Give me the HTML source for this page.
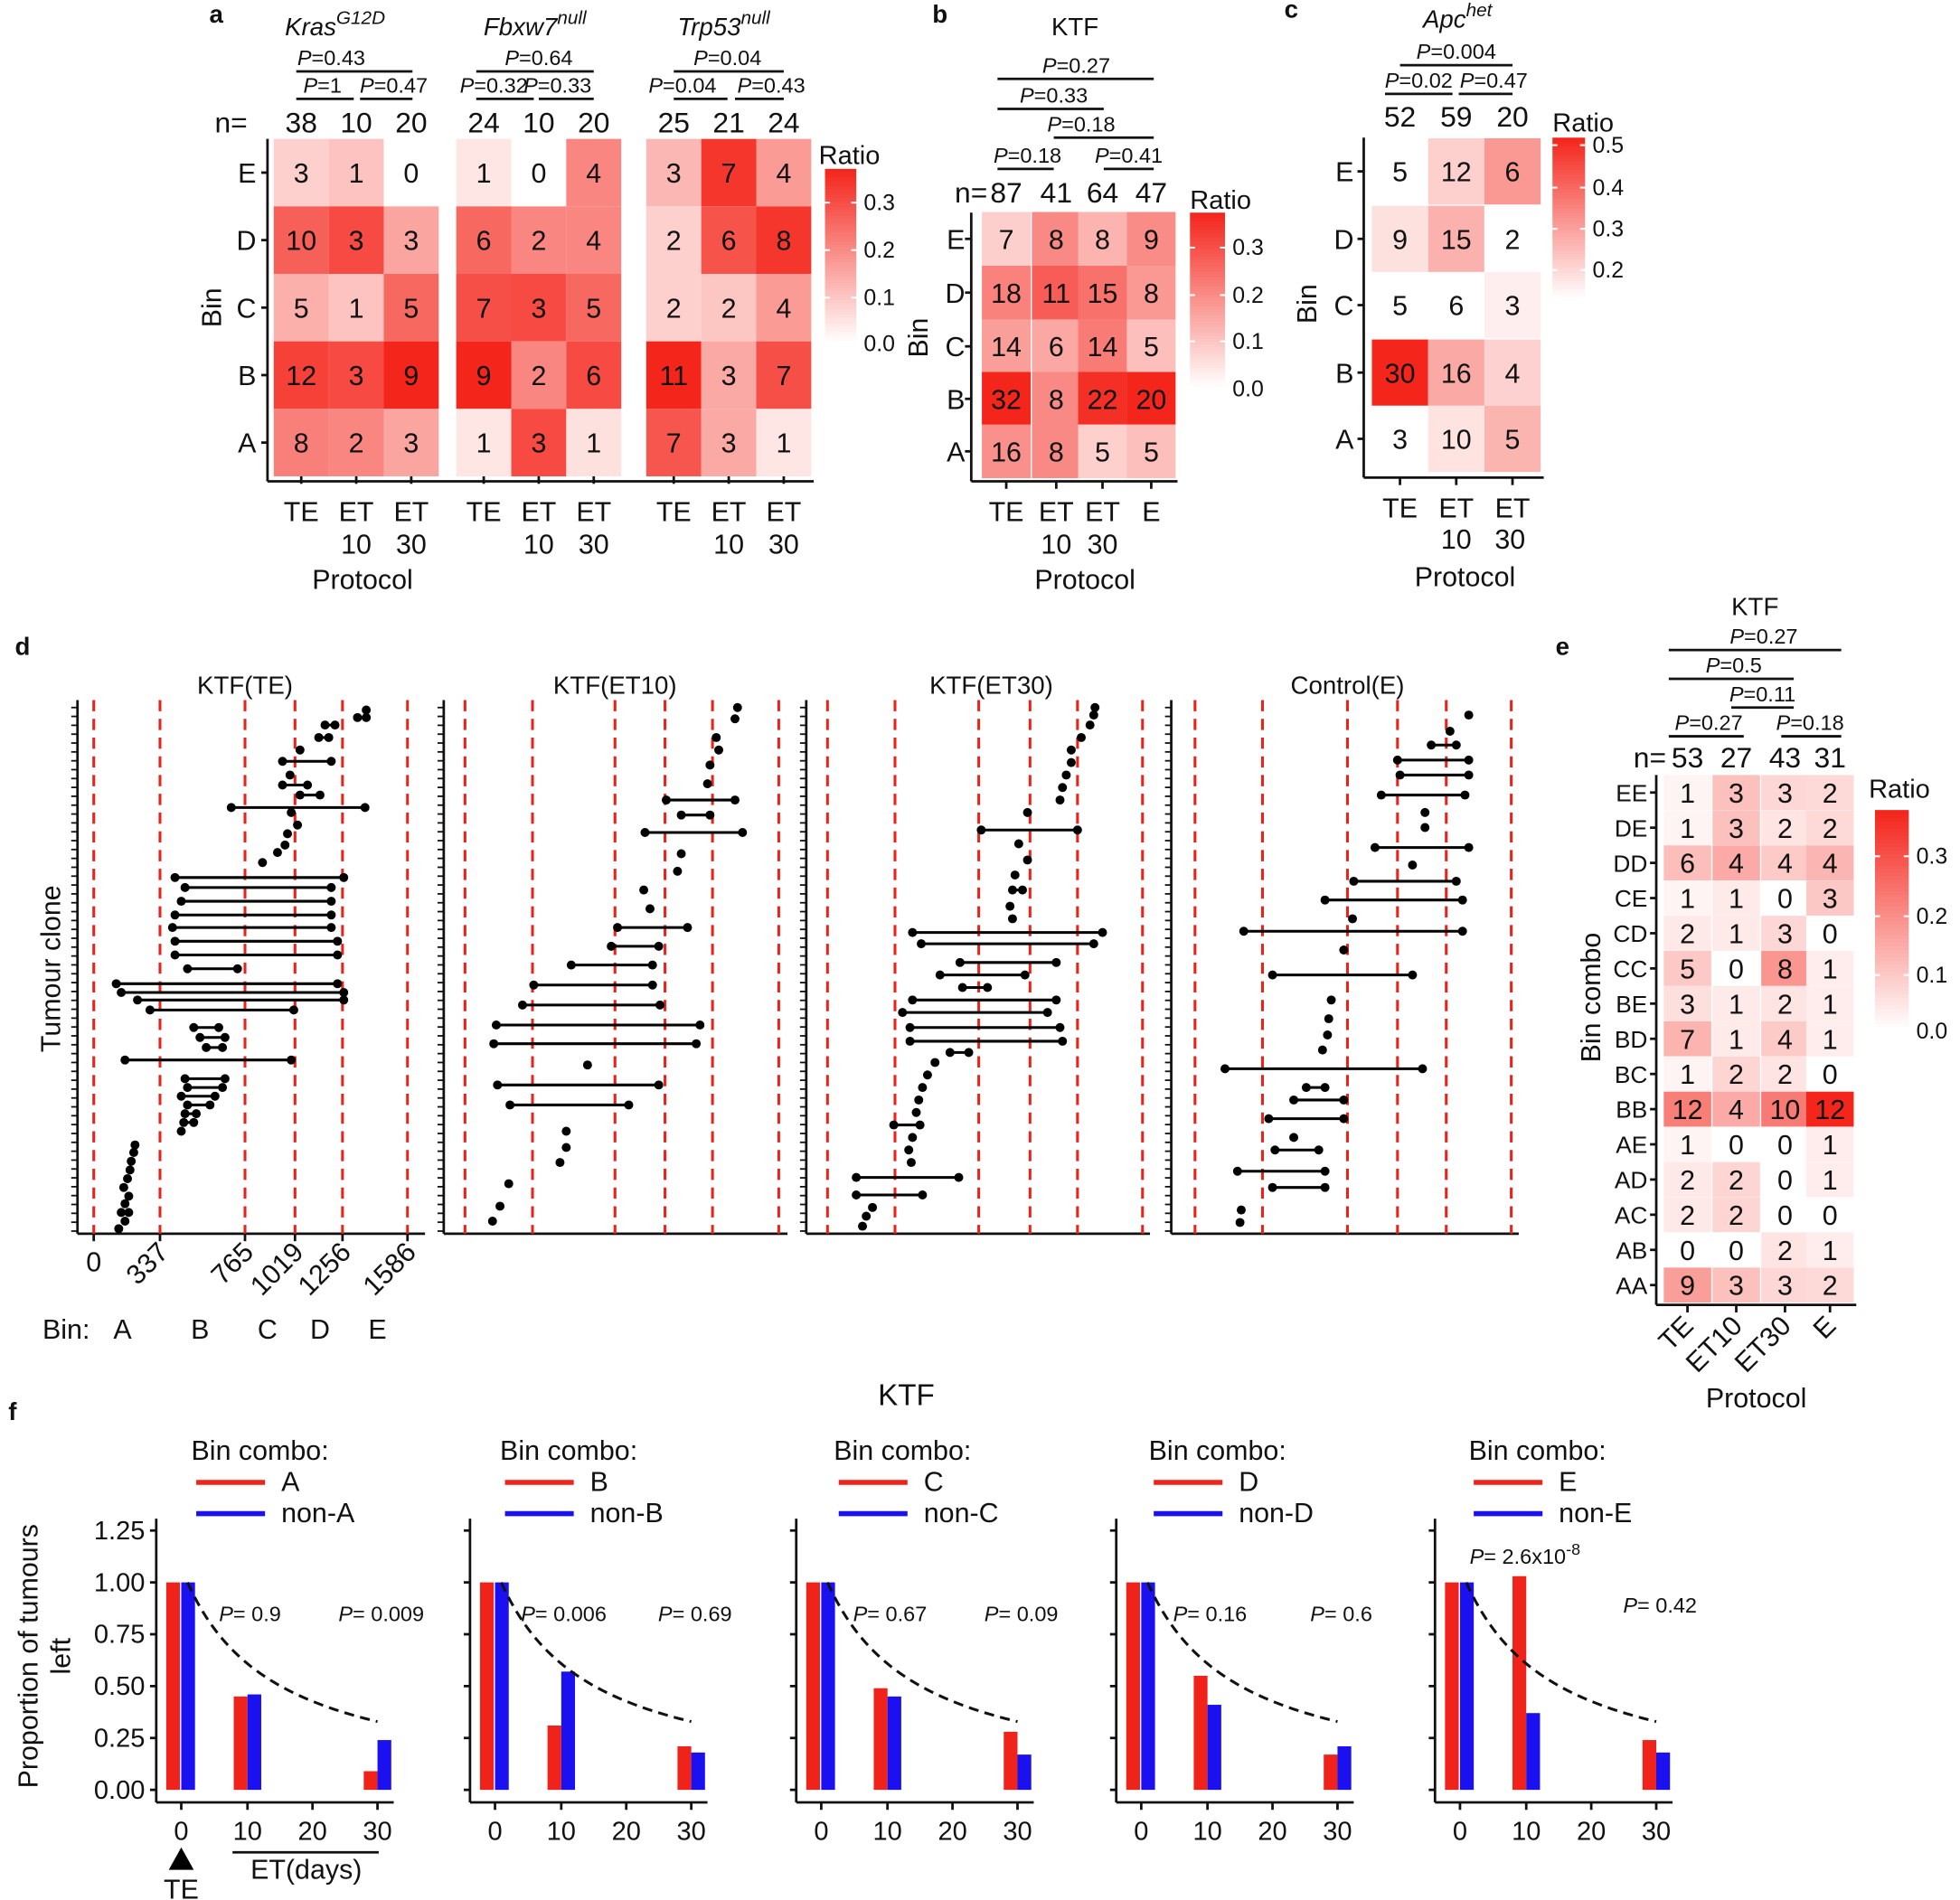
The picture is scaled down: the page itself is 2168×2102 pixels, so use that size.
<!DOCTYPE html>
<html><head><meta charset="utf-8"><style>
html,body{margin:0;padding:0;background:#fff}
svg{display:block}
text{font-family:"Liberation Sans",Arial,sans-serif;fill:#111}
</style></head><body>
<svg id="s" xmlns="http://www.w3.org/2000/svg" width="2168" height="2102" viewBox="0 0 1568 1520"></svg>
<script>
const S=document.getElementById('s');let H='';
function T(x,y,t,o={}){H+=`<text x="${x}" y="${y}" font-size="${o.fs||22}" text-anchor="${o.a||'middle'}" ${o.b?'font-weight="bold"':''} ${o.i?'font-style="italic"':''} ${o.tr?'transform="'+o.tr+'"':''}>${t}</text>`;}
function L(x1,y1,x2,y2,c='#111',w=2,d=''){H+=`<line x1="${x1}" y1="${y1}" x2="${x2}" y2="${y2}" stroke="${c}" stroke-width="${w}" ${d?'stroke-dasharray="'+d+'"':''}/>`;}
function R(x,y,w,h,f){H+=`<rect x="${x}" y="${y}" width="${w}" height="${h}" fill="${f}"/>`;}
function C(x,y,r=3.6){H+=`<circle cx="${x}" cy="${y}" r="${r}" fill="#000"/>`;}
function col(t){t=Math.max(0,Math.min(1,t));const r=Math.round(255-(255-244)*t),g=Math.round(255-(255-38)*t),b=Math.round(255-(255-28)*t);return `rgb(${r},${g},${b})`;}
function heat(xs,cw,ys,ch,vals,ns,lo,hi){for(let r=0;r<ys.length;r++)for(let c=0;c<xs.length;c++){const v=vals[r][c];R(xs[c]-cw/2,ys[r]-ch/2,cw,ch,col((v/ns[c]-lo)/(hi-lo)));T(xs[c],ys[r]+8,v);}}
function cbar(x,y0,y1,w,ticks,lo,hi){for(let i=0;i<60;i++){const t=1-i/59;R(x,y0+(y1-y0)*i/60,w,(y1-y0)/60+0.6,col(t));}
 ticks.forEach(([v,y])=>{L(x,y,x+4,y,'#fff',1.5);L(x+w-4,y,x+w,y,'#fff',1.5);T(x+w+6,y+6,v,{a:'start',fs:18});});}
function brk(x1,x2,y,lab,lx){L(x1,y,x2,y);H+=`<text x="${lx}" y="${y-5}" font-size="17" text-anchor="middle"><tspan font-style="italic">P</tspan>=${lab}</text>`;}
// ===== panel a
T(173,18,'a',{b:1,fs:20});
const aRows=['E','D','C','B','A'],aY=[138,192,246,300,354];
const A=[[[3,1,0],[10,3,3],[5,1,5],[12,3,9],[8,2,3]],[[1,0,4],[6,2,4],[7,3,5],[9,2,6],[1,3,1]],[[3,7,4],[2,6,8],[2,2,4],[11,3,7],[7,3,1]]];
const AN=[[38,10,20],[24,10,20],[25,21,24]];const AX=[[241,285,329],[387,431,475],[539,583,627]];
for(let k=0;k<3;k++){heat(AX[k],44,aY,54,A[k],AN[k],0,0.36);AN[k].forEach((n,i)=>T(AX[k][i],106,n,{fs:23}));
 AX[k].forEach((x)=>{L(x,381,x,387);T(x,417,x==AX[k][0]?'TE':'ET');});T(AX[k][1],443,'10');T(AX[k][2],443,'30');}
T(198,106,'n=',{a:'end',fs:23});
L(214,111,214,385);L(214,385,651,385);
aRows.forEach((r,i)=>{T(205,aY[i]+8,r,{a:'end'});L(209,aY[i],214,aY[i]);});
T(177,246,'Bin',{tr:'rotate(-90 177 246)'});T(290,471,'Protocol');
H+=`<text x="268" y="28" font-size="20" text-anchor="middle" font-style="italic">Kras<tspan dy="-9" font-size="15">G12D</tspan></text>`;
H+=`<text x="428" y="28" font-size="20" text-anchor="middle" font-style="italic">Fbxw7<tspan dy="-9" font-size="15">null</tspan></text>`;
H+=`<text x="579" y="28" font-size="20" text-anchor="middle" font-style="italic">Trp53<tspan dy="-9" font-size="15">null</tspan></text>`;
brk(237,330,57,'0.43',265);brk(237,283,79,'1',258);brk(288,330,79,'0.47',315);
brk(381,475,57,'0.64',431);brk(381,427,79,'0.32',395);brk(431,475,79,'0.33',446);
brk(539,627,57,'0.04',582);brk(539,582,79,'0.04',546);brk(588,627,79,'0.43',617);
T(655,131,'Ratio',{a:'start',fs:21});cbar(660,135,275,25,[['0.3',162],['0.2',200],['0.1',238],['0.0',275]],0,1);
// ===== panel b
T(752,18,'b',{b:1,fs:20});
const bX=[805,845,882,921],bY=[191,234,277,319,361];
heat(bX,39,bY,43,[[7,8,8,9],[18,11,15,8],[14,6,14,5],[32,8,22,20],[16,8,5,5]],[87,41,64,47],0,0.36);
[87,41,64,47].forEach((n,i)=>T(bX[i],162,n,{fs:23}));T(790,162,'n=',{a:'end',fs:23});
L(777,170,777,385);L(777,385,942,385);
aRows.forEach((r,i)=>{T(772,bY[i]+8,r,{a:'end'});L(772,bY[i],777,bY[i]);});
['TE','ET','ET','E'].forEach((t,i)=>{T(bX[i],417,t);L(bX[i],385,bX[i],391);});T(845,443,'10');T(882,443,'30');
T(868,471,'Protocol');T(742,270,'Bin',{tr:'rotate(-90 742 270)'});T(860,28,'KTF',{fs:20});
brk(798,923,63,'0.27',861);brk(798,883,87,'0.33',843);brk(843,923,110,'0.18',865);brk(798,843,135,'0.18',822);brk(883,923,135,'0.41',903);
T(952,167,'Ratio',{a:'start',fs:21});cbar(952,170,311,28,[['0.3',198],['0.2',236],['0.1',273],['0.0',311]],0,1);
// ===== panel c
T(1033,14,'c',{b:1,fs:20});
const cX=[1120,1165,1210],cY=[137,191,244,298,351];
heat(cX,45,cY,53,[[5,12,6],[9,15,2],[5,6,3],[30,16,4],[3,10,5]],[52,59,20],0.12,0.5);
[52,59,20].forEach((n,i)=>T(cX[i],101,n,{fs:23}));
L(1091,110,1091,382);L(1091,382,1235,382);
aRows.forEach((r,i)=>{T(1083,cY[i]+8,r,{a:'end'});L(1086,cY[i],1091,cY[i]);});
['TE','ET','ET'].forEach((t,i)=>{T(cX[i],414,t);L(cX[i],382,cX[i],388);});T(1165,439,'10');T(1208,439,'30');
T(1172,469,'Protocol');T(1053,243,'Bin',{tr:'rotate(-90 1053 243)'});
H+=`<text x="1166" y="22" font-size="20" text-anchor="middle" font-style="italic">Apc<tspan dy="-9" font-size="15">het</tspan></text>`;
brk(1120,1210,52,'0.004',1165);brk(1108,1162,75,'0.02',1135);brk(1167,1210,75,'0.47',1195);
T(1242,105,'Ratio',{a:'start',fs:21});cbar(1242,110,240,26,[['0.5',116],['0.4',150],['0.3',183],['0.2',216]],0,1);
// ===== panel e
T(1250,524,'e',{b:1,fs:20});
const eR=['EE','DE','DD','CE','CD','CC','BE','BD','BC','BB','AE','AD','AC','AB','AA'];
const eV=[[1,3,3,2],[1,3,2,2],[6,4,4,4],[1,1,0,3],[2,1,3,0],[5,0,8,1],[3,1,2,1],[7,1,4,1],[1,2,2,0],[12,4,10,12],[1,0,0,1],[2,2,0,1],[2,2,0,0],[0,0,2,1],[9,3,3,2]];
const eX=[1350,1389,1428,1464],eY=eR.map((_,i)=>634+i*28.15);
heat(eX,38,eY,28,eV,[53,27,43,31],0,0.38);
[53,27,43,31].forEach((n,i)=>T(eX[i],614,n,{fs:23}));T(1333,614,'n=',{a:'end',fs:23});
L(1325,620,1325,1044);L(1325,1044,1485,1044);
eR.forEach((r,i)=>{T(1318,eY[i]+7,r,{a:'end',fs:19});L(1320,eY[i],1325,eY[i]);});
['TE','ET10','ET30','E'].forEach((t,i)=>{L(eX[i],1044,eX[i],1050);T(eX[i]+6,1062,t,{a:'end',tr:`rotate(-45 ${eX[i]+6} 1062)`});});
T(1405,1126,'Protocol');T(1280,798,'Bin combo',{tr:'rotate(-90 1280 798)'});T(1404,492,'KTF',{fs:20});
brk(1335,1473,520,'0.27',1411);brk(1335,1435,543,'0.5',1387);brk(1385,1435,566,'0.11',1410);brk(1335,1395,589,'0.27',1367);brk(1425,1473,589,'0.18',1448);
T(1495,638,'Ratio',{a:'start',fs:21});cbar(1500,648,825,27,[['0.3',685],['0.2',733],['0.1',780],['0.0',825]],0,1);
// ===== panel d
T(18,524,'d',{b:1,fs:20});
const dP=[
 {ax:62,ex:340,vl:[75,128,196,236,274,326],t:'KTF(TE)',tx:196,d:[[983,95],[977,100],[970,97,103],[963,100],[957,103],[950,99],[943,102],[936,104],[929,105],[922,107],[916,108],[905,145],[898,147,155],[891,148,157],[884,150,168],[877,145,172],[870,150,178],[863,148,180],[848,100,233],[838,165,178],[830,160,180],[822,155,175],[808,120,235],[800,110,275],[794,97,275],[787,93,270],[775,150,190],[764,140,270],[753,140,270],[742,138,265],[732,140,265],[721,145,265],[710,148,265],[702,140,275],[690,210],[682,222],[676,228],[667,230],[660,238],[650,233],[646,185,292],[636,240,256],[628,226,246],[620,232],[609,226,265],[600,240],[590,255,263],[580,260,268],[574,286,293],[568,293]]},
 {ax:355,ex:630,vl:[372,426,492,532,570,623],t:'KTF(ET10)',tx:492,d:[[977,394],[965,400],[947,407],[930,448],[918,453],[905,453],[884,408,503],[868,398,527],[852,470],[835,395,557],[820,397,560],[804,418,528],[788,427,522],[772,457,522],[757,489,527],[742,494,550],[727,520],[712,515],[697,542],[683,545],[666,516,594],[652,545,568],[640,533,588],[627,566],[612,568],[600,575],[590,573],[575,588],[566,590]]},
 {ax:645,ex:920,vl:[662,716,783,824,862,914],t:'KTF(ET30)',tx:793,d:[[981,690],[973,693],[966,698],[956,685,738],[942,685,767],[930,729],[920,727],[910,730],[900,715,736],[890,733],[880,735],[870,738],[860,742],[850,748],[842,760,775],[833,728,850],[822,728,848],[810,722,838],[800,730,845],[790,770,790],[780,752,820],[770,768,845],[755,737,875],[746,730,882],[735,810],[725,808],[712,810,818],[700,812],[688,822],[675,815],[664,785,862],[650,822],[640,848],[630,850],[620,853],[610,857],[600,857],[590,865],[580,872],[572,875],[566,876]]},
 {ax:937,ex:1215,vl:[956,1010,1078,1118,1157,1209],t:'Control(E)',tx:1078,d:[[978,992],[968,993],[950,1018,1060],[937,990,1060],[920,1020,1055],[910,1035],[895,1015,1075],[880,1035,1075],[870,1045,1060],[855,980,1138],[840,1058],[828,1062],[815,1063],[800,1065],[780,1018,1130],[760,1075],[745,995,1170],[735,1082],[720,1060,1170],[705,1083,1165],[692,1130],[678,1100,1175],[662,1140],[650,1140],[636,1105,1172],[620,1120,1175],[608,1118,1175],[596,1145,1165],[585,1160],[572,1175]]}];
dP.forEach((p,k)=>{L(p.ax,560,p.ax,987);L(p.ax,987,p.ex,987);
 for(let y=566;y<=985;y+=7.1)L(p.ax-5,y,p.ax,y,'#111',1.3);
 p.vl.forEach(x=>L(x,560,x,987,'#e8231a',2.2,'9,6'));
 T(p.tx,555,p.t,{fs:20});
 p.d.forEach(r=>{if(r.length==3){L(r[1],r[0],r[2],r[0],'#000',2.2);C(r[1],r[0]);C(r[2],r[0]);}else C(r[1],r[0]);});});
[[75,'0'],[128,'337'],[196,'765'],[236,'1019'],[274,'1256'],[326,'1586']].forEach(([x,t])=>{L(x,987,x,993);if(t=='0')T(x,1017,t);else T(x+8,1003,t,{a:'end',tr:`rotate(-45 ${x+8} 1003)`});});
T(34,1071,'Bin:',{a:'start'});[[98,'A'],[160,'B'],[214,'C'],[256,'D'],[302,'E']].forEach(([x,t])=>T(x,1071,t));
T(48,775,'Tumour clone',{tr:'rotate(-90 48 775)'});
// ===== panel f
T(10,1136,'f',{b:1,fs:20});T(725,1124,'KTF',{fs:24});
T(30,1325,'Proportion of tumours',{tr:'rotate(-90 30 1325)'});T(56,1325,'left',{tr:'rotate(-90 56 1325)'});
const fs=[['A',.45,.46,.09,.24,'0.9','0.009'],['B',.31,.57,.21,.18,'0.006','0.69'],['C',.49,.45,.28,.17,'0.67','0.09'],['D',.55,.41,.17,.21,'0.16','0.6'],['E',1.03,.37,.24,.18,null,'0.42']];
const offs=[0,251,512,768,1023],lo=[0,247,514,766,1022];
const Y=v=>1432-166*v;
fs.forEach((f,k)=>{const o=offs[k];
 T(153+lo[k],1168,'Bin combo:',{a:'start'});L(157+lo[k],1186,212+lo[k],1186,'#f0231a',4);L(157+lo[k],1211,212+lo[k],1211,'#1a10f0',4);
 T(225+lo[k],1193,f[0],{a:'start'});T(225+lo[k],1218,'non-'+f[0],{a:'start'});
 L(125+o,1215,125+o,1442);L(125+o,1442,315+o,1442);
 if(k==0)[['1.25',1.25],['1.00',1],['0.75',.75],['0.50',.5],['0.25',.25],['0.00',0]].forEach(([t,v])=>{T(116,Y(v)+7,t,{a:'end',fs:21});});
 [1.25,1,.75,.5,.25,0].forEach(v=>L(120+o,Y(v),125+o,Y(v)));
 [[145,'0'],[198,'10'],[250,'20'],[302,'30']].forEach(([x,t])=>{L(x+o,1442,x+o,1448);T(x+o,1472,t,{fs:21});});
 const bars=[[133,1],[145,1],[187,f[1]],[198,f[2]],[291,f[3]],[302,f[4]]];
 bars.forEach(([x,v],i)=>R(x+o,Y(v),11,166*v,i%2?'#1a10f0':'#f0231a'));
 let pts='';for(let t=0;t<=30;t+=0.5){pts+=`${150+o+t*(302-150)/30},${Y(1/(1+0.068*t))} `;}
 H+=`<polyline points="${pts}" fill="none" stroke="#111" stroke-width="2.2" stroke-dasharray="8,5"/>`;
 if(f[5])H+=`<text x="${200+o}" y="1297" font-size="17" text-anchor="middle"><tspan font-style="italic">P</tspan>= ${f[5]}</text>`;
 H+=`<text x="${305+o}" y="${k==4?1290:1297}" font-size="17" text-anchor="middle"><tspan font-style="italic">P</tspan>= ${f[6]}</text>`;
});
H+=`<text x="1220" y="1251" font-size="17" text-anchor="middle"><tspan font-style="italic">P</tspan>= 2.6x10<tspan dy="-7" font-size="13">-8</tspan></text>`;
H+=`<polygon points="145,1478 135,1496 155,1496" fill="#000"/>`;T(145,1519,'TE');
L(186,1482,303,1482);T(245,1503,'ET(days)');
S.innerHTML=H;
</script>
</body></html>
